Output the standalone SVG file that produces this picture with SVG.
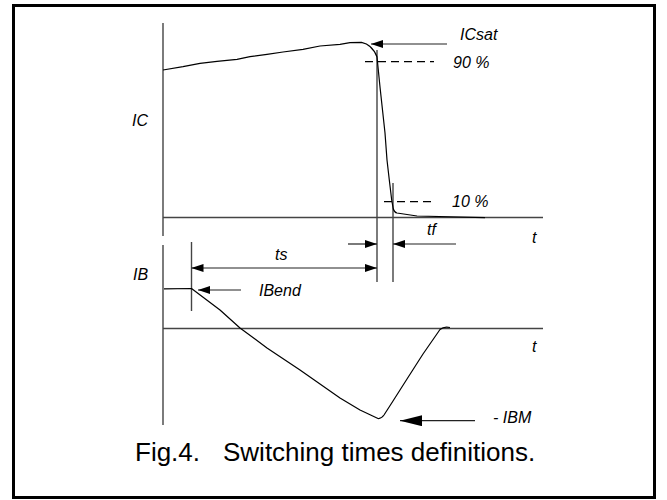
<svg xmlns="http://www.w3.org/2000/svg" width="667" height="500" viewBox="0 0 667 500">
<style>
.lbl{font-family:"Liberation Sans",Arial,sans-serif;font-size:16px;font-style:italic;fill:#000}
.cap{font-family:"Liberation Sans",Arial,sans-serif;font-size:26px;fill:#000}
.ax{stroke:#444;stroke-width:1.4;fill:none}
.cv{stroke:#000;stroke-width:1.2;fill:none;stroke-linejoin:round}
.ar{stroke:#222;stroke-width:1.2;fill:none}
.dash{stroke:#000;stroke-width:1.2;stroke-dasharray:8,5;fill:none}
</style>
<defs>
<marker id="ah" markerUnits="userSpaceOnUse" markerWidth="12" markerHeight="8" refX="12" refY="4" orient="auto-start-reverse">
<path d="M0,0 L12,4 L0,8 Z" fill="#000"/>
</marker>
<marker id="ahb" markerUnits="userSpaceOnUse" markerWidth="22" markerHeight="11" refX="22" refY="5.5" orient="auto">
<path d="M0,0 L22,5.5 L0,11 Z" fill="#000"/>
</marker>
</defs>
<rect x="13.5" y="5.5" width="641" height="492" fill="#fff" stroke="#000" stroke-width="3"/>
<g id="axes">
<line class="ax" x1="163" y1="23" x2="163" y2="236"/>
<line class="ax" x1="163" y1="217.5" x2="543" y2="217.5"/>
<line class="ax" x1="163" y1="245" x2="163" y2="425"/>
<line class="ax" x1="163" y1="328.5" x2="543" y2="328.5"/>
<line class="ax" x1="191.5" y1="242" x2="191.5" y2="311"/>
<line class="ax" x1="377" y1="50" x2="377" y2="282"/>
<line class="ax" x1="393" y1="183" x2="393" y2="282"/>
</g>
<g id="ic-curve">
<path class="cv" d="M163,70 L183,66.7 L200,63.3 L217,61.3 L237,59.3 L250,56.7 L267,54.3 L283,52 L303,49.3 L320,46 L340,44.3 L350,42.7 L361.5,42.3 Q367,43.5 370,46.5 Q375,51 377,57 L380,87 L385,133 L387,160 L389.3,180 L391.7,200 L393.3,209 Q394.5,212.5 397,213 L417,216 L485,217.7"/>
</g>
<g id="ib-curve">
<path class="cv" d="M164,288.8 L191.5,288.5 L220,310 L240,328 L267,348 L300,370 L340,398 L360,410 L378,418.5 Q381,419 384,415 L393,401 L407,379 L423,354 L440,329.5 Q444,326 450,327.5"/>
</g>
<g id="connectors">
<line class="ar" x1="447" y1="44" x2="371" y2="44" marker-end="url(#ah)"/>
<line class="dash" x1="365" y1="61.7" x2="434" y2="61.7"/>
<line class="dash" x1="384" y1="201.7" x2="433" y2="201.7"/>
<line class="ar" x1="348" y1="244" x2="377" y2="244" marker-end="url(#ah)"/>
<line class="ar" x1="456" y1="244" x2="393" y2="244" marker-end="url(#ah)"/>
<line class="ar" x1="191.5" y1="268" x2="377" y2="268" marker-start="url(#ah)" marker-end="url(#ah)"/>
<line class="ar" x1="241" y1="290" x2="198" y2="290" marker-end="url(#ah)"/>
<line class="ar" x1="475" y1="420.7" x2="400" y2="420.7" marker-end="url(#ahb)"/>
</g>
<g id="labels">
<text class="lbl" x="460" y="40">ICsat</text>
<text class="lbl" x="453" y="68">90 %</text>
<text class="lbl" x="452" y="207">10 %</text>
<text class="lbl" x="427" y="235">tf</text>
<text class="lbl" x="532" y="243">t</text>
<text class="lbl" x="532" y="352">t</text>
<text class="lbl" x="132" y="126">IC</text>
<text class="lbl" x="133" y="280">IB</text>
<text class="lbl" x="275" y="260">ts</text>
<text class="lbl" x="259" y="296">IBend</text>
<text class="lbl" x="493" y="423">- IBM</text>
<text class="cap" y="461"><tspan x="135">Fig.4.</tspan><tspan x="223">Switching times definitions.</tspan></text>
</g>
</svg>
